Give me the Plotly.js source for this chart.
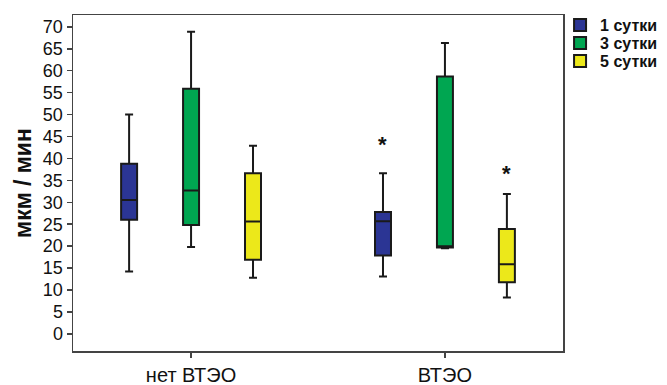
<!DOCTYPE html>
<html><head><meta charset="utf-8">
<script src="https://cdn.plot.ly/plotly-3.0.1.min.js"></script>
<style>html,body{margin:0;padding:0;background:#fff;}</style>
</head><body><div id="chart" style="width:667px;height:385px;"></div>
<script>
// ---- data ----
const groups = ['нет ВТЭО', 'ВТЭО'];
const seriesNames = ['1 сутки', '3 сутки', '5 сутки'];
const lowerWhisker = [[14.2, 13.1], [19.8, 19.5], [12.8, 8.3]];
const q1Values     = [[26.0, 17.9], [24.8, 19.7], [16.9, 11.8]];
const medianValues = [[30.5, 25.7], [32.7, 20.0], [25.6, 15.9]];
const q3Values     = [[38.8, 27.8], [55.9, 58.7], [36.6, 23.9]];
const upperWhisker = [[50.0, 36.6], [68.9, 66.3], [42.9, 31.9]];
const outlierValues = [[null, 43.1], [null, null], [null, 36.5]];
const yTicks = [0, 5, 10, 15, 20, 25, 30, 35, 40, 45, 50, 55, 60, 65, 70];

// ---- styles ----
const fills = ['#2b3594', '#00a651', '#ece81a'];
const FONT = 'Liberation Sans, Arial, sans-serif';
const boxgap = 0.268, boxgroupgap = 0.742;
const groupPos = groups.map((g, i) => i);
const legendIds = ['legend', 'legend2', 'legend3'];
const legendRowY = [0.970, 0.9165, 0.863];

const traces = seriesNames.map((name, i) => ({
  type: 'box', name: name, orientation: 'v',
  x: groupPos,
  q1: q1Values[i], median: medianValues[i], q3: q3Values[i],
  lowerfence: lowerWhisker[i], upperfence: upperWhisker[i],
  fillcolor: fills[i],
  line: {color: '#1a1a1a', width: 2},
  whiskerwidth: 0.5,
  boxpoints: false,
  hoverinfo: 'skip',
  legend: legendIds[i]
}));

// outlier asterisks, placed at the grouped box offsets
const offset = (1 - boxgap) / seriesNames.length;
const annotations = [];
outlierValues.forEach((vals, i) => {
  vals.forEach((v, g) => {
    if (v === null) return;
    annotations.push({
      x: groupPos[g] + (i - (seriesNames.length - 1) / 2) * offset,
      y: v, xref: 'x', yref: 'y', text: '*', showarrow: false,
      yshift: 0,
      font: {family: FONT, size: 22, color: '#111', weight: 'bold'}
    });
  });
});

const layout = {
  width: 667, height: 385,
  paper_bgcolor: '#fff', plot_bgcolor: '#fff',
  margin: {l: 73, r: 104, t: 15, b: 34, autoexpand: false},
  boxmode: 'group', boxgap: boxgap, boxgroupgap: boxgroupgap,
  showlegend: true,
  xaxis: {range: [-0.465, 1.465], tickvals: groupPos, ticktext: groups,
          showline: true, mirror: true, linecolor: '#444', linewidth: 1.5,
          ticks: 'outside', ticklen: 5, tickcolor: '#444', tickwidth: 1.5,
          showgrid: false, zeroline: false, ticklabelstandoff: 0,
          tickfont: {family: FONT, size: 20, color: '#111'}},
  yaxis: {range: [-3.9, 72.7], tickvals: yTicks,
          showline: true, mirror: true, linecolor: '#444', linewidth: 1.5,
          ticks: 'outside', ticklen: 5, tickcolor: '#444', tickwidth: 1.5,
          showgrid: false, zeroline: false,
          tickfont: {family: FONT, size: 18, color: '#111'},
          title: {text: 'мкм / мин', standoff: 5,
                  font: {family: FONT, size: 23, color: '#111', weight: 'bold'}}},
  annotations: annotations
};
legendIds.forEach((id, i) => {
  layout[id] = {x: 0.994, xanchor: 'left', y: legendRowY[i], yanchor: 'middle',
                font: {family: FONT, size: 16, color: '#111', weight: 'bold'},
                itemwidth: 30, bgcolor: 'rgba(0,0,0,0)', borderwidth: 0};
});

Plotly.newPlot('chart', traces, layout, {displayModeBar: false, staticPlot: true});
</script>
</body></html>
